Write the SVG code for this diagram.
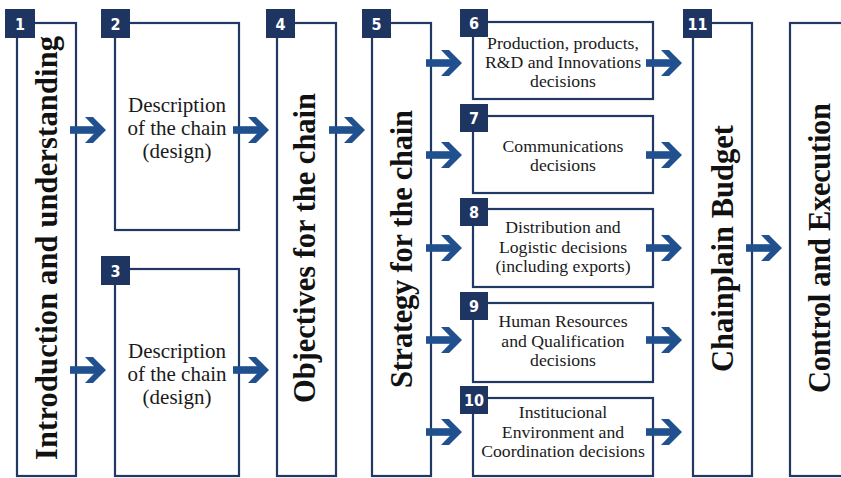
<svg xmlns="http://www.w3.org/2000/svg" width="841" height="478" viewBox="0 0 841 478">
  <style>
    .box { fill: #ffffff; stroke: #1f3864; stroke-width: 2.2; }
    .badge { fill: #1e3461; }
    .num { fill: #ffffff; font-family: "DejaVu Sans Condensed", "Roboto", sans-serif; font-weight: bold; font-size: 16px; text-anchor: middle; }
    .vt { fill: #111111; font-family: "Liberation Serif", "Times New Roman", serif; font-weight: bold; font-size: 30.5px; text-anchor: middle; }
    .bt { fill: #1a1a1a; font-family: "Liberation Serif", "Times New Roman", serif; font-size: 21px; text-anchor: middle; }
    .st { fill: #1a1a1a; font-family: "Liberation Serif", "Times New Roman", serif; font-size: 17.7px; text-anchor: middle; }
    .arrow { fill: #21508f; }
  </style>
  <defs>
    <!-- block arrow, tip at the origin, pointing right -->
    <g id="arr" class="arrow">
      <rect x="-36" y="-3.8" width="28" height="7.6"/>
      <polygon points="0,0 -13,-13 -21,-13 -8.5,0 -21,13 -13,13"/>
    </g>
  </defs>

  <rect width="841" height="478" fill="#ffffff"/>

  <!-- 1 -->
  <g id="node1">
    <rect class="box" x="17" y="23" width="59" height="453"/>
    <rect class="badge" x="5" y="9" width="30" height="29"/>
    <text class="num" x="20" y="30">1</text>
    <text class="vt" x="57" y="248" transform="rotate(-90 57 248)" textLength="424">Introduction and understanding</text>
  </g>

  <!-- 2 -->
  <g id="node2">
    <rect class="box" x="115" y="23" width="124" height="207"/>
    <rect class="badge" x="101" y="9" width="29" height="29"/>
    <text class="num" x="115.5" y="30">2</text>
    <text class="bt" x="177" y="112">Description</text>
    <text class="bt" x="177" y="135">of the chain</text>
    <text class="bt" x="177" y="158">(design)</text>
  </g>

  <!-- 3 -->
  <g id="node3">
    <rect class="box" x="115" y="269" width="124" height="207"/>
    <rect class="badge" x="101" y="256" width="29" height="29"/>
    <text class="num" x="115.5" y="277">3</text>
    <text class="bt" x="177" y="358">Description</text>
    <text class="bt" x="177" y="381">of the chain</text>
    <text class="bt" x="177" y="404">(design)</text>
  </g>

  <!-- 4 -->
  <g id="node4">
    <rect class="box" x="277" y="23" width="59" height="453"/>
    <rect class="badge" x="266" y="9" width="29" height="29"/>
    <text class="num" x="280.5" y="30">4</text>
    <text class="vt" x="314.5" y="248" transform="rotate(-90 314.5 248)" textLength="310">Objectives for the chain</text>
  </g>

  <!-- 5 -->
  <g id="node5">
    <rect class="box" x="372" y="23" width="59" height="453"/>
    <rect class="badge" x="362" y="9" width="29" height="29"/>
    <text class="num" x="376.5" y="30">5</text>
    <text class="vt" x="411.5" y="249" transform="rotate(-90 411.5 249)" textLength="278">Strategy for the chain</text>
  </g>

  <!-- 6 -->
  <g id="node6">
    <rect class="box" x="473" y="22" width="180" height="77"/>
    <rect class="badge" x="460" y="9" width="28" height="28"/>
    <text class="num" x="474" y="29">6</text>
    <text class="st" x="563" y="49">Production, products,</text>
    <text class="st" x="563" y="68">R&amp;D and Innovations</text>
    <text class="st" x="563" y="87">decisions</text>
  </g>

  <!-- 7 -->
  <g id="node7">
    <rect class="box" x="473" y="116" width="180" height="77"/>
    <rect class="badge" x="460" y="104" width="28" height="28"/>
    <text class="num" x="474" y="124">7</text>
    <text class="st" x="563" y="152">Communications</text>
    <text class="st" x="563" y="171">decisions</text>
  </g>

  <!-- 8 -->
  <g id="node8">
    <rect class="box" x="473" y="209" width="180" height="78"/>
    <rect class="badge" x="460" y="198" width="28" height="28"/>
    <text class="num" x="474" y="218">8</text>
    <text class="st" x="563" y="233">Distribution and</text>
    <text class="st" x="563" y="253">Logistic decisions</text>
    <text class="st" x="563" y="272">(including exports)</text>
  </g>

  <!-- 9 -->
  <g id="node9">
    <rect class="box" x="473" y="303" width="180" height="79"/>
    <rect class="badge" x="460" y="292" width="28" height="28"/>
    <text class="num" x="474" y="312">9</text>
    <text class="st" x="563" y="327">Human Resources</text>
    <text class="st" x="563" y="347">and Qualification</text>
    <text class="st" x="563" y="366">decisions</text>
  </g>

  <!-- 10 -->
  <g id="node10">
    <rect class="box" x="473" y="398" width="180" height="78"/>
    <rect class="badge" x="460" y="386" width="28" height="28"/>
    <text class="num" x="474" y="406">10</text>
    <text class="st" x="563" y="418">Institucional</text>
    <text class="st" x="563" y="438">Environment and</text>
    <text class="st" x="563" y="457">Coordination decisions</text>
  </g>

  <!-- 11 -->
  <g id="node11">
    <rect class="box" x="693" y="23" width="59" height="453"/>
    <rect class="badge" x="683" y="9" width="29" height="29"/>
    <text class="num" x="697.5" y="30">11</text>
    <text class="vt" x="732.5" y="248.5" transform="rotate(-90 732.5 248.5)" textLength="247">Chainplain Budget</text>
  </g>

  <!-- 12: runs past the right edge -->
  <g id="node12">
    <rect class="box" x="790" y="23" width="70" height="453"/>
    <text class="vt" x="829.5" y="248" transform="rotate(-90 829.5 248)" textLength="290">Control and Execution</text>
  </g>

  <!-- connectors -->
  <g id="connectors">
    <use href="#arr" x="106" y="130"/>
    <use href="#arr" x="106" y="370"/>
    <use href="#arr" x="269" y="130"/>
    <use href="#arr" x="269" y="370"/>
    <use href="#arr" x="365" y="130"/>
    <use href="#arr" x="462" y="63"/>
    <use href="#arr" x="462" y="155"/>
    <use href="#arr" x="462" y="248"/>
    <use href="#arr" x="462" y="340"/>
    <use href="#arr" x="462" y="432"/>
    <use href="#arr" x="682" y="63"/>
    <use href="#arr" x="682" y="155"/>
    <use href="#arr" x="682" y="248"/>
    <use href="#arr" x="682" y="340"/>
    <use href="#arr" x="682" y="432"/>
    <use href="#arr" x="782" y="248"/>
  </g>
</svg>
